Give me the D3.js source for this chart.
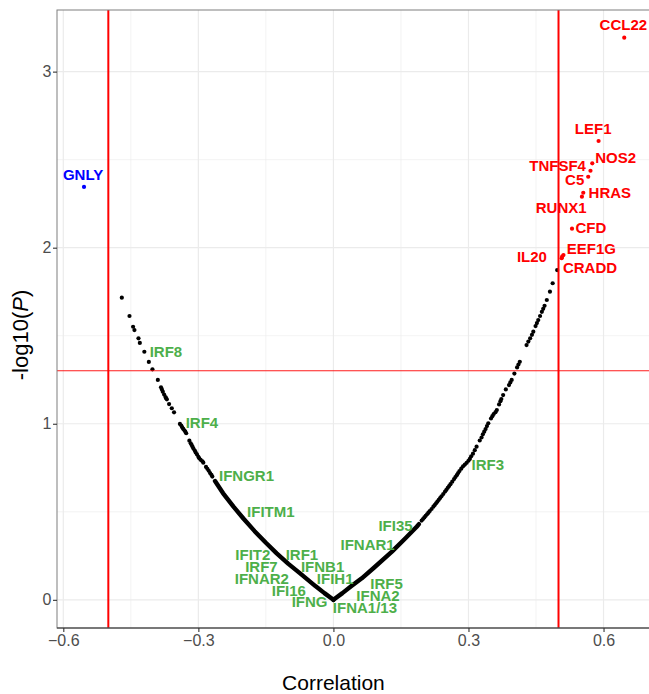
<!DOCTYPE html>
<html>
<head>
<meta charset="utf-8">
<script src="https://cdn.jsdelivr.net/npm/d3@7"></script>
<style>
  body { margin: 0; background: #fff; }
  svg { display: block; font-family: "Liberation Sans", Arial, sans-serif; }
</style>
</head>
<body>
<div id="chart"></div>
<script>
// axis ticks
const xTicks = [-0.6, -0.3, 0, 0.3, 0.6];
const xMinor = [-0.45, -0.15, 0.15, 0.45];
const yTicks = [0, 1, 2, 3];
const yMinor = [0.5, 1.5, 2.5];

// cut-offs
const corrCut = [-0.5, 0.5];
const pCut = 1.301;

const leftTraceR = [0, -0.02, -0.04, -0.074, -0.1, -0.126, -0.15, -0.175, -0.2, -0.222, -0.245, -0.263];
const leftTraceP = [0, 0.038, 0.078, 0.150, 0.204, 0.264, 0.324, 0.390, 0.462, 0.529, 0.605, 0.675];
const rightTraceR = [0, 0.02, 0.04, 0.063, 0.09, 0.13, 0.16, 0.185, 0.19];
const rightTraceP = [0, 0.038, 0.078, 0.122, 0.182, 0.274, 0.35, 0.415, 0.430];

// single genes further up the curve
const leftR = [-0.269, -0.271, -0.274, -0.277, -0.280, -0.283, -0.289, -0.291, -0.295, -0.298,
  -0.300, -0.303, -0.306, -0.308, -0.311, -0.313, -0.315, -0.317, -0.320, -0.327,
  -0.329, -0.331, -0.334, -0.336, -0.338, -0.341, -0.354, -0.359, -0.365, -0.370,
  -0.372, -0.373, -0.376, -0.379, -0.381, -0.383, -0.390, -0.402, -0.410, -0.420,
  -0.430, -0.433, -0.442, -0.445, -0.453, -0.470];
const leftP = [0.700, 0.710, 0.720, 0.733, 0.744, 0.755, 0.779, 0.787, 0.795, 0.804,
  0.812, 0.826, 0.837, 0.848, 0.859, 0.870, 0.880, 0.889, 0.904, 0.946,
  0.955, 0.963, 0.972, 0.980, 0.990, 0.999, 1.065, 1.088, 1.112, 1.139,
  1.146, 1.152, 1.166, 1.182, 1.195, 1.207, 1.249, 1.309, 1.351, 1.409,
  1.459, 1.485, 1.532, 1.551, 1.612, 1.716];
const rightR = [0.196, 0.199, 0.202, 0.205, 0.208, 0.211, 0.214, 0.218, 0.222, 0.225,
  0.228, 0.231, 0.234, 0.237, 0.240, 0.244, 0.248, 0.251, 0.254, 0.257,
  0.260, 0.264, 0.268, 0.271, 0.274, 0.277, 0.280, 0.284, 0.288, 0.292,
  0.296, 0.300, 0.303, 0.306, 0.310, 0.314, 0.318, 0.325, 0.329,
  0.332, 0.335, 0.338, 0.341, 0.344, 0.350, 0.353, 0.356, 0.360,
  0.363, 0.368, 0.371, 0.373, 0.377, 0.383, 0.390, 0.393, 0.396,
  0.402, 0.408, 0.411, 0.414, 0.429, 0.433, 0.437, 0.441,
  0.444, 0.449, 0.452, 0.455, 0.459, 0.463, 0.466, 0.469, 0.474, 0.481,
  0.487, 0.497];
const rightP = [0.450, 0.459, 0.468, 0.477, 0.486, 0.495, 0.504, 0.516, 0.529, 0.538,
  0.548, 0.558, 0.568, 0.578, 0.588, 0.601, 0.615, 0.625, 0.636, 0.646,
  0.657, 0.671, 0.686, 0.697, 0.708, 0.720, 0.731, 0.745, 0.758, 0.768,
  0.778, 0.790, 0.800, 0.815, 0.830, 0.850, 0.870, 0.905, 0.922,
  0.940, 0.955, 0.970, 0.987, 1.003, 1.030, 1.043, 1.055, 1.066,
  1.078, 1.110, 1.128, 1.140, 1.163, 1.195, 1.220, 1.235, 1.249,
  1.285, 1.320, 1.336, 1.352, 1.447, 1.467, 1.485, 1.505,
  1.523, 1.555, 1.572, 1.589, 1.612, 1.636, 1.653, 1.670, 1.703, 1.750,
  1.798, 1.873];

// significant, positive
const redGenes = ['CCL22', 'LEF1', 'NOS2', 'TNFSF4', 'C5', 'HRAS', 'RUNX1', 'CFD', 'EEF1G', 'IL20', 'CRADD'];
const redR = [0.646, 0.589, 0.575, 0.571, 0.566, 0.555, 0.552, 0.530, 0.511, 0.508, 0.507];
const redP = [3.193, 2.606, 2.479, 2.437, 2.403, 2.312, 2.290, 2.108, 1.958, 1.949, 1.940];
const redLabelR = [0.644, 0.577, 0.627, 0.498, 0.536, 0.614, 0.506, 0.572, 0.573, 0.441, 0.570];
const redLabelP = [3.265, 2.674, 2.512, 2.464, 2.384, 2.311, 2.225, 2.112, 1.993, 1.947, 1.887];

// significant, negative
const blueGenes = ['GNLY'];
const blueR = [-0.554];
const blueP = [2.345];
const blueLabelR = [-0.556];
const blueLabelP = [2.417];

// interferon genes, labels only
const greenGenes = ['IRF8', 'IRF4', 'IFNGR1', 'IFITM1', 'IFIT2', 'IRF1', 'IRF7', 'IFNB1', 'IFNAR2',
  'IFIH1', 'IFI16', 'IRF5', 'IFNA2', 'IFNG', 'IFNA1/13', 'IFI35', 'IFNAR1', 'IRF3'];
const greenLabelR = [-0.372, -0.292, -0.193, -0.139, -0.179, -0.070, -0.160, -0.024, -0.159,
  0.004, -0.099, 0.118, 0.099, -0.053, 0.070, 0.138, 0.076, 0.343];
const greenLabelP = [1.409, 1.004, 0.703, 0.499, 0.255, 0.255, 0.186, 0.186, 0.118,
  0.118, 0.053, 0.090, 0.025, -0.012, -0.044, 0.422, 0.311, 0.769];

function drawChart() {
  let totalW = 649;
  let totalH = 694;
  let margin = {top: 10, right: 0, bottom: 66, left: 57};
  let width = totalW - margin.left - margin.right;
  let height = totalH - margin.top - margin.bottom;

  let x = d3.scaleLinear().domain([-0.614, 0.701]).range([0, width]);
  let y = d3.scaleLinear().domain([-0.16, 3.35]).range([height, 0]);

  let root = d3.select('#chart').append('svg')
    .attr('width', totalW)
    .attr('height', totalH);

  let svg = root.append('g')
    .attr('transform', `translate(${margin.left},${margin.top})`);

  root.append('defs').append('clipPath').attr('id', 'panel')
    .append('rect').attr('width', width).attr('height', height);

  let panel = svg.append('g').attr('clip-path', 'url(#panel)');

  // grid
  panel.selectAll('.vminor').data(xMinor).enter().append('line')
    .attr('x1', d => x(d)).attr('x2', d => x(d)).attr('y1', 0).attr('y2', height)
    .style('stroke', '#ebebeb').style('stroke-width', 0.6);
  panel.selectAll('.hminor').data(yMinor).enter().append('line')
    .attr('y1', d => y(d)).attr('y2', d => y(d)).attr('x1', 0).attr('x2', width)
    .style('stroke', '#ebebeb').style('stroke-width', 0.6);
  panel.selectAll('.vmajor').data(xTicks).enter().append('line')
    .attr('x1', d => x(d)).attr('x2', d => x(d)).attr('y1', 0).attr('y2', height)
    .style('stroke', '#ebebeb').style('stroke-width', 1.2);
  panel.selectAll('.hmajor').data(yTicks).enter().append('line')
    .attr('y1', d => y(d)).attr('y2', d => y(d)).attr('x1', 0).attr('x2', width)
    .style('stroke', '#ebebeb').style('stroke-width', 1.2);

  // the packed bottom of the V
  let line = d3.line().x(d => x(d[0])).y(d => y(d[1]));
  [d3.zip(leftTraceR, leftTraceP), d3.zip(rightTraceR, rightTraceP)].forEach(tr => {
    panel.append('path')
      .attr('d', line(tr))
      .style('fill', 'none')
      .style('stroke', '#000')
      .style('stroke-width', 4.4)
      .style('stroke-linecap', 'round')
      .style('stroke-linejoin', 'round');
  });

  let blackPts = d3.zip(leftR, leftP).concat(d3.zip(rightR, rightP));
  panel.selectAll('.pt').data(blackPts).enter().append('circle')
    .attr('cx', d => x(d[0])).attr('cy', d => y(d[1])).attr('r', 2.1)
    .style('fill', '#000');

  panel.selectAll('.red-pt').data(d3.zip(redR, redP)).enter().append('circle')
    .attr('cx', d => x(d[0])).attr('cy', d => y(d[1])).attr('r', 2.1)
    .style('fill', 'red');
  panel.selectAll('.blue-pt').data(d3.zip(blueR, blueP)).enter().append('circle')
    .attr('cx', d => x(d[0])).attr('cy', d => y(d[1])).attr('r', 2.1)
    .style('fill', 'blue');

  // cut-off lines
  panel.selectAll('.vcut').data(corrCut).enter().append('line')
    .attr('x1', d => x(d)).attr('x2', d => x(d)).attr('y1', 0).attr('y2', height)
    .style('stroke', 'red').style('stroke-width', 2);
  panel.append('line')
    .attr('x1', 0).attr('x2', width).attr('y1', y(pCut)).attr('y2', y(pCut))
    .style('stroke', 'red').style('stroke-width', 0.9);

  // gene labels
  function labels(names, rs, ps, colour) {
    panel.selectAll(null).data(names).enter().append('text')
      .attr('x', (d, i) => x(rs[i]))
      .attr('y', (d, i) => y(ps[i]))
      .attr('dy', '0.36em')
      .style('text-anchor', 'middle')
      .style('font-size', '15px')
      .style('font-weight', 'bold')
      .style('fill', colour)
      .text(d => d);
  }
  labels(greenGenes, greenLabelR, greenLabelP, '#4daf4a');
  labels(redGenes, redLabelR, redLabelP, 'red');
  labels(blueGenes, blueLabelR, blueLabelP, 'blue');

  // panel border + axis line
  svg.append('rect')
    .attr('width', width + 2).attr('height', height)
    .style('fill', 'none').style('stroke', '#7f7f7f').style('stroke-width', 1);
  svg.append('line')
    .attr('x1', 0).attr('x2', width).attr('y1', height).attr('y2', height)
    .style('stroke', '#333').style('stroke-width', 1.1);

  let xAxis = d3.axisBottom(x)
    .tickValues(xTicks)
    .tickSize(4)
    .tickPadding(3)
    .tickFormat(d3.format('.1f'));
  let yAxis = d3.axisLeft(y)
    .tickValues(yTicks)
    .tickSize(4)
    .tickPadding(1.5)
    .tickFormat(d3.format('d'));

  svg.append('g')
    .attr('class', 'x axis')
    .attr('transform', `translate(0, ${height})`)
    .call(xAxis);
  svg.append('g')
    .attr('class', 'y axis')
    .call(yAxis);

  svg.selectAll('.axis .domain').style('display', 'none');
  svg.selectAll('.axis line').style('stroke', '#333').style('stroke-width', 1.1);
  svg.selectAll('.axis text')
    .style('font-family', '"Liberation Sans", Arial, sans-serif')
    .style('font-size', '16px')
    .style('fill', '#4d4d4d');

  // titles
  root.append('text')
    .attr('x', margin.left + x(0))
    .attr('y', 690)
    .style('text-anchor', 'middle')
    .style('font-size', '21px')
    .style('fill', '#000')
    .text('Correlation');

  let yt = root.append('text')
    .attr('transform', 'translate(28, 335) rotate(-90)')
    .style('text-anchor', 'middle')
    .style('font-size', '22px')
    .style('fill', '#000');
  yt.append('tspan').text('-log10(');
  yt.append('tspan').style('font-style', 'italic').text('P');
  yt.append('tspan').text(')');
}

drawChart();
</script>
</body>
</html>
